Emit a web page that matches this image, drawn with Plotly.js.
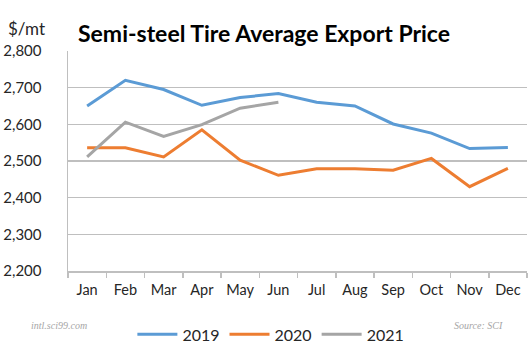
<!DOCTYPE html>
<html><head><meta charset="utf-8">
<script src="https://cdn.plot.ly/plotly-3.0.1.min.js"></script>
<style>html,body{margin:0;padding:0;background:#fff}#c{width:531px;height:355px}</style>
</head><body><div id="c"></div>
<script>
const months = ["Jan","Feb","Mar","Apr","May","Jun","Jul","Aug","Sep","Oct","Nov","Dec"];
const y2019 = [2650,2720,2695,2652,2673,2684,2660,2650,2601,2576,2534,2537];
const y2020 = [2536,2536,2511,2585,2502,2461,2479,2479,2475,2507,2430,2480];
const y2021 = [2511,2606,2567,2599,2644,2660];
const yTicks = [2200,2300,2400,2500,2600,2700,2800];
const yTickText = ["2,200","2,300","2,400","2,500","2,600","2,700","2,800"];

const font = "Lato, 'Open Sans', sans-serif";
const traces = [
  {x: months, y: y2019, name: "2019", mode: "lines", line: {color: "#5b9bd5", width: 3}},
  {x: months, y: y2020, name: "2020", mode: "lines", line: {color: "#ed7d31", width: 3}},
  {x: months.slice(0, y2021.length), y: y2021, name: "2021", mode: "lines", line: {color: "#a5a5a5", width: 3}}
];
const layout = {
  width: 531, height: 355,
  margin: {l: 68, r: 4, t: 51, b: 82},
  paper_bgcolor: "#fff", plot_bgcolor: "#fff",
  font: {family: font, size: 15, color: "#262626"},
  showlegend: true,
  legend: {orientation: "h", x: 0.442, xanchor: "center", y: -0.288, yanchor: "middle",
           font: {size: 16, color: "#262626"}, itemwidth: 40, tracegroupgap: 0},
  xaxis: {type: "category", range: [-0.5, 11.5], tickson: "boundaries", ticks: "outside", ticklen: 5,
          tickcolor: "#bfbfbf", tickwidth: 1.5, tickangle: 0,
          showline: true, linecolor: "#bfbfbf", linewidth: 1.5, showgrid: false, zeroline: false,
          tickfont: {size: 14.5, color: "#262626"}, ticklabelstandoff: 5},
  yaxis: {range: [2200, 2800], tickvals: yTicks, ticktext: yTickText, showgrid: true,
          gridcolor: "#bfbfbf", gridwidth: 1.5, showline: true, linecolor: "#bfbfbf", linewidth: 1.5,
          zeroline: false, ticks: "", ticklabelstandoff: 22, tickfont: {size: 15, color: "#262626"}},
  annotations: [
    {text: "<b>Semi-steel Tire Average Export Price</b>", xref: "paper", yref: "paper", x: 0.017, y: 1.081,
     xanchor: "left", yanchor: "middle", showarrow: false, font: {size: 23, color: "#000", family: font}},
    {text: "$/mt", xref: "paper", yref: "paper", x: -0.135, y: 1.104, xanchor: "left", yanchor: "middle",
     showarrow: false, font: {size: 17, color: "#262626"}},
    {text: "<i>intl.sci99.com</i>", xref: "paper", yref: "paper", x: -0.085, y: -0.248, xanchor: "left",
     yanchor: "middle", showarrow: false, font: {size: 10, color: "#a6a6a6", family: "'Liberation Serif', serif"}},
    {text: "<i>Source: SCI</i>", xref: "paper", yref: "paper", x: 0.952, y: -0.248, xanchor: "right",
     yanchor: "middle", showarrow: false, font: {size: 10, color: "#a6a6a6", family: "'Liberation Serif', serif"}}
  ]
};
Plotly.newPlot("c", traces, layout, {displayModeBar: false, staticPlot: true});
</script></body></html>
